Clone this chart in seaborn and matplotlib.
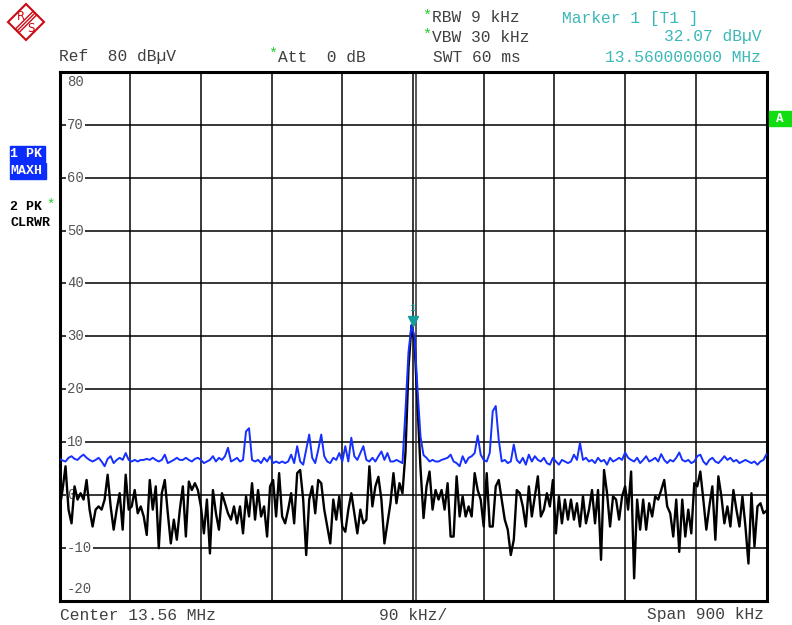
import numpy as np
import pandas as pd
import matplotlib.pyplot as plt
import seaborn as sns
from matplotlib.patches import Polygon, Rectangle
from matplotlib.transforms import blended_transform_factory

# -----------------------------
# SETTINGS (from the analyzer screen)
# -----------------------------
f_start = 13.11   # MHz
f_stop = 14.01    # MHz
f_center = 13.56
ref_level = 80
y_bottom = -20
y_ticks = [80, 70, 60, 50, 40, 30, 20, 10, 0, -10, -20]

marker_freq = 13.56
marker_level = 32.07

# -----------------------------
# TRACE 1 (1 PK MAXH) - blue, dBuV
# -----------------------------
blue_a = [6.8, 6.5, 6.3, 7.0, 7.3, 6.8, 6.6, 7.2, 7.6, 7.0,
          6.6, 6.3, 6.6, 7.0, 6.3, 5.4, 6.8, 7.3, 6.0, 6.6,
          7.0, 6.6, 7.9, 6.6, 6.3, 6.6, 6.3, 6.6, 6.6, 6.8,
          6.6, 7.0, 6.6, 6.3, 6.6, 7.6, 6.0, 6.3, 6.6, 7.0,
          6.6, 6.6, 7.0, 6.6, 6.3, 6.8, 7.0, 6.6, 6.0, 6.3,
          6.6, 7.3, 6.3, 7.0, 6.6, 7.3, 8.9, 6.3, 6.6, 7.0]
blue_b = [6.3, 6.6, 12.0, 12.6, 6.6, 6.3, 6.6, 6.0, 7.0, 6.3,
          7.3, 6.0, 6.3, 6.0, 6.3, 6.0, 6.3, 7.6, 6.0, 9.2,
          6.3, 5.7, 8.5, 11.4, 7.0, 6.0, 8.5, 11.4, 7.3, 6.3,
          6.0, 7.0, 6.6, 7.9, 6.3, 9.2, 6.3, 10.8, 7.3, 6.6,
          7.9, 9.2, 6.6, 6.3, 7.0, 6.3, 7.3, 8.2, 6.6, 7.9,
          6.3, 6.3, 6.6, 6.3, 6.0]
blue_peak = [16.0, 27.0, 32.07, 30.0, 20.0, 11.0]
blue_c = [7.5, 7.0, 6.3, 6.6, 6.3, 6.3, 6.6, 6.8, 7.0, 7.6,
          6.3, 6.0, 5.4, 7.3, 6.0, 7.0, 7.3, 7.9, 11.2, 7.6,
          6.6, 6.3, 7.9, 15.8, 16.8, 10.4, 6.3, 6.6, 6.0, 6.3,
          9.5, 6.6, 6.0, 7.0, 5.7, 7.6, 6.3, 7.3, 6.6, 6.3,
          7.0, 6.0, 5.7, 7.0, 6.3, 5.7, 6.6, 6.3, 6.0, 6.3,
          7.6, 6.6, 9.8, 6.6, 7.0, 6.3]
blue_d = [6.6, 6.0, 7.0, 6.3, 6.6, 5.7, 7.0, 6.3, 6.6, 7.0,
          6.6, 8.0, 7.0, 6.6, 6.3, 7.0, 6.0, 6.6, 7.3, 6.3,
          6.6, 7.0, 6.3, 7.7, 6.6, 6.0, 6.6, 6.3, 7.0, 8.0,
          6.6, 6.3, 6.6, 6.0, 6.3, 7.3, 7.6, 6.3, 5.7, 6.6,
          7.0, 6.3, 6.0, 6.6, 7.3, 6.6, 7.0, 6.3, 6.6, 6.0,
          6.3, 6.6, 6.3, 6.0, 6.3, 5.7, 6.3, 6.6, 7.7]

# -----------------------------
# TRACE 2 (2 PK CLRWR) - black, dBuV
# -----------------------------
black_a = [-2.7, 0.9, 5.4, -2.8, -5.4, 1.6, -0.9, 0.3, -0.9, 2.8,
           -2.8, -6.0, -2.8, -2.2, -2.8, -0.9, 3.8, -2.2, -6.6, -2.8,
           0.3, -6.6, 3.8, -2.8, -2.2, 0.9, -3.5, -2.2, -4.1, -7.6,
           2.8, -2.8, 1.6, -10.1, 0.3, 2.8, -3.5, -9.2, -4.7, -8.5,
           -2.8, 1.6, -7.9, 2.5, 0.9, 2.2, 0.9, -2.2, -7.3, -0.9,
           -11.1, 0.9, -3.5, -6.6, 0.3, -1.6, -3.5, -4.7, -2.2, -5.4]
black_b = [-2.2, -7.3, -0.3, -4.1, 2.2, -4.7, 0.9, -4.1, -2.2, -7.9,
           1.6, 2.8, -4.1, 4.1, -4.1, -5.4, -2.8, 0.3, -5.4, 4.1,
           4.7, -0.9, -11.4, -0.9, 1.6, -3.5, 2.8, 2.2, -2.8, -6.0,
           -9.2, -0.9, -4.7, -0.3, -6.0, -7.0, -2.8, 0.3, -3.5, -7.3,
           -2.8, -5.4, -4.7, 5.4, -2.2, 1.6, 3.4, -0.9, -9.2, -5.4,
           -1.6, 4.1, -1.6, 2.2, 0.3]
black_peak = [8.0, 24.0, 32.07, 29.0, 17.0, 5.0]
black_c = [-4.4, 1.6, 4.4, -2.8, 0.9, -0.9, 0.9, -2.8, 2.2, -7.9,
           -7.9, 3.5, -4.1, -0.3, -4.1, -2.2, -4.1, 4.1, 0.9, -0.9,
           -6.0, 4.1, -6.0, -6.0, 1.6, 2.8, -0.9, -4.7, -6.6, -11.4,
           -8.5, 0.9, 0.3, -2.2, -6.0, 1.6, -4.1, -0.3, 3.5, -4.1,
           -2.8, 0.3, -2.2, 2.8, -7.3, -0.3, -5.4, -0.9, -4.7, -0.9,
           -4.7, -1.6, -6.0, -0.3, -5.4, -2.8]
black_d = [0.9, -5.4, 0.9, -12.3, 4.7, 0.3, -6.0, -0.3, -0.9, -4.7,
           -0.3, 1.6, -2.8, 4.4, -15.8, -0.9, -6.6, -0.9, -6.6, -1.6,
           -4.1, -0.3, -0.9, 0.9, 2.8, -2.2, -3.5, -7.9, -0.9, -10.8,
           -0.9, -7.9, -2.8, -7.3, 2.2, 1.6, 4.4, -0.9, -6.6, -2.2,
           1.6, -8.5, 3.5, -0.3, -5.4, -2.2, -6.0, 0.9, -2.8, -6.0,
           -0.3, -6.0, -13.0, 0.3, -9.8, -2.2, -1.6, -3.5, -3.0]

blue = blue_a + blue_b + blue_peak + blue_c + blue_d
black = black_a + black_b + black_peak + black_c + black_d

# sweep points are spread evenly over the span
freq = np.linspace(f_start, f_stop, len(blue))
df = pd.DataFrame({"freq": freq, "trace1": blue, "trace2": black})

# -----------------------------
# FIGURE
# -----------------------------
sns.set_style("white")
plt.rcParams["font.family"] = ["Liberation Mono", "DejaVu Sans Mono"]

W, H = 792, 625
fig = plt.figure(figsize=(W / 100, H / 100), dpi=100)
ax = fig.add_axes([59.5 / W, 1 - 600.5 / H, 707 / W, 528.5 / H])

sns.lineplot(data=df, x="freq", y="trace2", ax=ax, color="black", lw=1.7, zorder=3)
sns.lineplot(data=df, x="freq", y="trace1", ax=ax, color="#1530ff", lw=1.4, zorder=4)

ax.set_xlim(f_start, f_stop)
ax.set_ylim(y_bottom, ref_level)
ax.set_xticks(np.linspace(f_start, f_stop, 11))
ax.set_yticks(y_ticks)
ax.xaxis.grid(True, color="#2a2a2a", lw=1.3)
ax.yaxis.grid(True, color="black", lw=1.1)
ax.set_axisbelow(True)
ax.tick_params(length=0, labelbottom=False, labelleft=False)
ax.set_xlabel("")
ax.set_ylabel("")
for s in ax.spines.values():
    s.set_linewidth(2.2)
    s.set_color("black")

# double line at center frequency
ax.axvline(f_center + 0.0032, color="#2a2a2a", lw=1.1, zorder=1)

# level labels inside the grid
trans = blended_transform_factory(ax.transAxes, ax.transData)
for v in y_ticks:
    y = v
    if v == ref_level:
        y = 78.2
    if v == y_bottom:
        y = -17.8
    ax.text(0.0105, y, str(v), transform=trans, fontsize=10, color="#555555",
            va="center", ha="left", zorder=2,
            bbox=dict(facecolor="white", edgecolor="none", pad=1.0))

# marker 1
teal = "#169c9c"
ax.plot([marker_freq], [marker_level + 0.9], marker="v", ms=7, color=teal,
        ls="none", zorder=5)
ax.text(marker_freq, 35.4, "1", color=teal, fontsize=8, ha="center",
        va="center", zorder=5)


def ftext(px, py, s, **kw):
    fig.text(px / W, 1 - py / H, s, va="center", **kw)


grey = "#404040"
green = "#22cc22"
hdr = 11.7

ftext(59, 57, "Ref  80 dB\u00b5V", fontsize=hdr, color=grey)
ftext(268, 54, "*", fontsize=11, color=green)
ftext(278, 57, "Att  0 dB", fontsize=hdr, color=grey)
ftext(422, 16, "*", fontsize=11, color=green)
ftext(432, 18, "RBW 9 kHz", fontsize=hdr, color=grey)
ftext(422, 35, "*", fontsize=11, color=green)
ftext(432, 37, "VBW 30 kHz", fontsize=hdr, color=grey)
ftext(433, 57, "SWT 60 ms", fontsize=hdr, color=grey)
ftext(562, 18, "Marker 1 [T1 ]", fontsize=hdr, color="#3cb8b8")
ftext(761, 37, "32.07 dB\u00b5V", fontsize=hdr, color="#3cb8b8", ha="right")
ftext(761, 57, "13.560000000 MHz", fontsize=hdr, color="#3cb8b8", ha="right")

ftext(60, 615, "Center 13.56 MHz", fontsize=hdr, color=grey)
ftext(413, 615, "90 kHz/", fontsize=hdr, color=grey, ha="center")
ftext(764, 615, "Span 900 kHz", fontsize=hdr, color=grey, ha="right")

# trace info boxes on the left
trace_blue = "#0a2cff"
fig.add_artist(Rectangle((10 / W, 1 - 161.5 / H), 35 / W, 15.5 / H,
                         transform=fig.transFigure, color=trace_blue))
fig.add_artist(Rectangle((10 / W, 1 - 178.5 / H), 36 / W, 15.5 / H,
                         transform=fig.transFigure, color=trace_blue))
ftext(10.5, 154, "1 PK", fontsize=9.5, color="white", weight="bold")
ftext(10.5, 171, "MAXH", fontsize=9.5, color="white", weight="bold")
ftext(10.5, 207, "2 PK", fontsize=9.5, color="black", weight="bold")
ftext(46, 205, "*", fontsize=10, color=green)
ftext(10.5, 223, "CLRWR", fontsize=9.5, color="black", weight="bold")

# limit / status box on the right
fig.add_artist(Rectangle((769 / W, 1 - 126 / H), 22 / W, 15 / H,
                         transform=fig.transFigure, color="#11dd11"))
ftext(780, 118.5, "A", fontsize=9, color="white", weight="bold", ha="center")

# R&S logo
red = "#cc0a14"
cx, cy, r = 26, 22, 18
diamond = [(cx / W, 1 - (cy - r) / H), ((cx + r) / W, 1 - cy / H),
           (cx / W, 1 - (cy + r) / H), ((cx - r) / W, 1 - cy / H)]
fig.add_artist(Polygon(diamond, closed=True, fill=False, edgecolor=red,
                       lw=1.5, transform=fig.transFigure))
for d in [-1.8, 0, 1.8]:
    fig.add_artist(plt.Line2D([(17 + d) / W, (35 + d) / W],
                              [1 - (31 + d) / H, 1 - (13 + d) / H],
                              color=red, lw=1.0, transform=fig.transFigure))
ftext(21, 17, "R", fontsize=8.5, color=red, ha="center", family="DejaVu Sans")
ftext(31, 28, "S", fontsize=8.5, color=red, ha="center", family="DejaVu Sans")

plt.savefig("out.png", dpi=100)
plt.close()
